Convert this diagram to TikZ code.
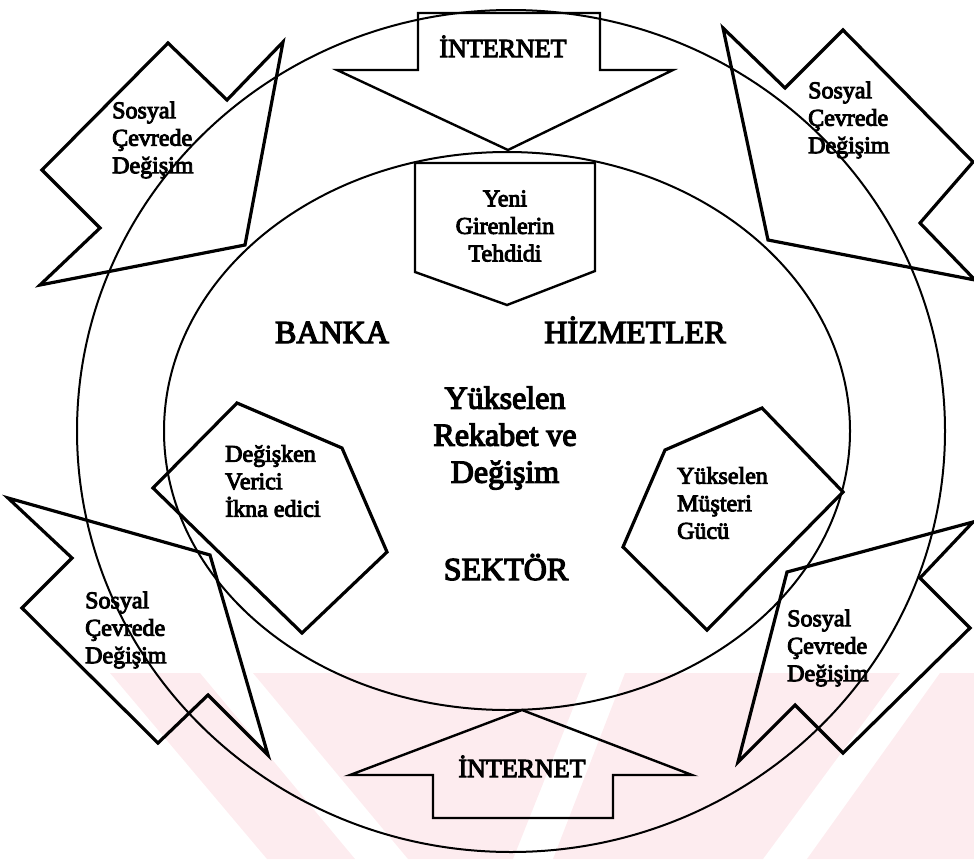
\documentclass[tikz,border=0pt]{standalone}
\usepackage{fontspec}
\setmainfont{Liberation Serif}[FakeBold=4]
\definecolor{wmpink}{RGB}{253,236,239}
\begin{document}
\begin{tikzpicture}[x=1pt,y=-1pt,
  shp/.style={line width=3.2pt, line join=miter},
  arw/.style={line width=2.4pt, line join=miter},
  ell/.style={line width=2pt},
  wm/.style={fill=wmpink, draw=none},
  txs/.style={font=\fontsize{24}{27.5}\selectfont, inner sep=0pt, align=left, anchor=west},
  txc/.style={font=\fontsize{24}{27.5}\selectfont, inner sep=0pt, align=center},
  big/.style={font=\fontsize{32}{37}\selectfont, inner sep=0pt},
  net/.style={font=\fontsize{26}{30}\selectfont, inner sep=0pt, anchor=base}]
\useasboundingbox (0,0) rectangle (974,859);
% faint watermark bands
\fill[wm] (110,673) -- (200,673) -- (355,859) -- (267,859) -- cycle;
\fill[wm] (253,673) -- (587,673) -- (513,859) -- (408,859) -- cycle;
\fill[wm] (625,673) -- (900,673) -- (763,859) -- (553,859) -- cycle;
\fill[wm] (940,673) -- (974,673) -- (974,859) -- (807,859) -- cycle;
% ellipses
\draw[ell] (507,431) ellipse [x radius=343pt, y radius=279pt];
\draw[ell] (511,431) ellipse [x radius=434pt, y radius=421pt];
% INTERNET arrows
\draw[arw] (418,13) -- (600,13) -- (600,70) -- (673,70) -- (508,150) -- (337,70) -- (418,70) -- cycle;
\draw[arw] (522,710) -- (692,775) -- (613,775) -- (613,818) -- (433,818) -- (433,775) -- (350,775) -- cycle;
% Yeni box
\draw[arw] (415,163) -- (595,163) -- (595,271) -- (507,305) -- (415,272) -- cycle;
% Sosyal shapes
\draw[shp] (168,43) -- (227,100) -- (283,42) -- (245,245) -- (40,285) -- (100,228) -- (42,170) -- cycle;
\draw[shp] (723,28) -- (785,88) -- (843,30) -- (973,162) -- (920,223) -- (975,280) -- (768,240) -- cycle;
\draw[shp] (8,498) -- (72,558) -- (22,608) -- (158,743) -- (208,695) -- (268,755) -- (210,555) -- cycle;
\draw[shp] (973,522) -- (920,578) -- (970,628) -- (843,753) -- (795,705) -- (738,762) -- (787,572) -- cycle;
% pentagons
\draw[shp] (237,403) -- (342,448) -- (387,552) -- (302,633) -- (153,488) -- cycle;
\draw[shp] (665,450) -- (762,408) -- (843,492) -- (707,630) -- (623,547) -- cycle;
% texts
\node[net] (net1) at (503,57) {İNTERNET};
\node[net] (net2) at (522,777) {İNTERNET};
\node[txc] (yeni) at (505,226) {Yeni\\Girenlerin\\Tehdidi};
\node[txs] (s1) at (112,140) {Sosyal\\Çevrede\\Değişim};
\node[txs] (s2) at (808,120) {Sosyal\\Çevrede\\Değişim};
\node[txs] (s3) at (85,630) {Sosyal\\Çevrede\\Değişim};
\node[txs] (s4) at (787,648) {Sosyal\\Çevrede\\Değişim};
\node[txs] (deg) at (225,481) {Değişken\\Verici\\İkna edici};
\node[txs] (mus) at (677,503) {Yükselen\\Müşteri\\Gücü};
\node[big, anchor=base] (banka) at (332,343) {BANKA};
\node[big, anchor=base] (hiz) at (635,343) {HİZMETLER};
\node[big, align=center] (mid) at (505,438) {Yükselen\\Rekabet ve\\Değişim};
\node[big, anchor=base] (sek) at (506,580) {SEKTÖR};
\end{tikzpicture}
\end{document}
